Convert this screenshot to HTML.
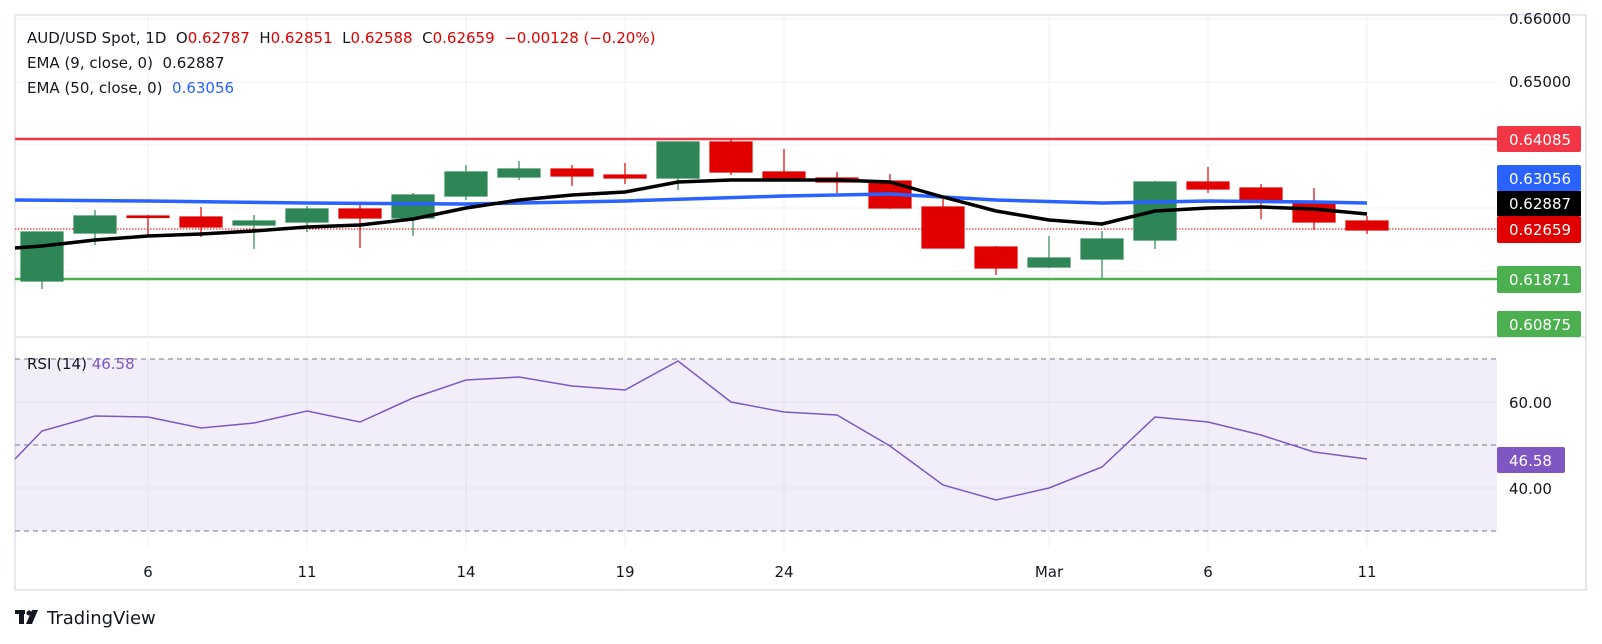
<!DOCTYPE html>
<html><head><meta charset="utf-8"><style>
html,body{margin:0;padding:0;background:#fff;}
svg{display:block;font-family:"DejaVu Sans","Liberation Sans",sans-serif;}
</style></head><body>
<svg width="1602" height="644" viewBox="0 0 1602 644" xmlns="http://www.w3.org/2000/svg">
<rect width="1602" height="644" fill="#fff"/>
<rect x="15" y="15" width="1571" height="575" fill="none" stroke="#e6e8ee" stroke-width="2"/>
<line x1="15" y1="337" x2="1586" y2="337" stroke="#e6e8ee" stroke-width="2"/>
<g stroke="#f0f1f4" stroke-width="1">
<line x1="15" y1="19" x2="1497" y2="19"/><line x1="15" y1="82" x2="1497" y2="82"/>
<line x1="15" y1="145" x2="1497" y2="145"/><line x1="15" y1="208" x2="1497" y2="208"/>
<line x1="15" y1="271" x2="1497" y2="271"/>
<line x1="148" y1="16" x2="148" y2="549"/><line x1="307" y1="16" x2="307" y2="549"/>
<line x1="466" y1="16" x2="466" y2="549"/><line x1="625" y1="16" x2="625" y2="549"/>
<line x1="784" y1="16" x2="784" y2="549"/><line x1="1049" y1="16" x2="1049" y2="549"/>
<line x1="1208" y1="16" x2="1208" y2="549"/><line x1="1367" y1="16" x2="1367" y2="549"/>
</g>
<g font-size="15">
<text x="27" y="43" fill="#131722" xml:space="preserve">AUD/USD Spot, 1D  O<tspan fill="#e00000">0.62787</tspan>  H<tspan fill="#e00000">0.62851</tspan>  L<tspan fill="#e00000">0.62588</tspan>  C<tspan fill="#e00000">0.62659  −0.00128 (−0.20%)</tspan></text>
<text x="27" y="68" fill="#131722" xml:space="preserve">EMA (9, close, 0)  0.62887</text>
<text x="27" y="93" fill="#131722" xml:space="preserve">EMA (50, close, 0)  <tspan fill="#2962ff">0.63056</tspan></text>
</g>
<line x1="15" y1="139" x2="1497" y2="139" stroke="#f23645" stroke-width="2.5"/>
<line x1="15" y1="279" x2="1497" y2="279" stroke="#4caf50" stroke-width="2.5"/>
<line x1="15" y1="229" x2="1497" y2="229" stroke="#e00000" stroke-width="1" stroke-dasharray="1.5,1.5"/>
<g stroke-width="1.2">
<g stroke="#2e8555" fill="#2e8555">
<line x1="42" y1="232" x2="42" y2="289"/><rect x="21" y="232" width="42" height="49"/>
<line x1="95" y1="210" x2="95" y2="245"/><rect x="74" y="216" width="42" height="17"/>
<line x1="254" y1="215" x2="254" y2="249"/><rect x="233" y="221" width="42" height="4"/>
<line x1="307" y1="206" x2="307" y2="232"/><rect x="286" y="209" width="42" height="13"/>
<line x1="413" y1="193" x2="413" y2="236"/><rect x="392" y="195" width="42" height="23"/>
<line x1="466" y1="165" x2="466" y2="200"/><rect x="445" y="172" width="42" height="24"/>
<line x1="519" y1="161" x2="519" y2="180"/><rect x="498" y="169" width="42" height="8"/>
<line x1="678" y1="142" x2="678" y2="190"/><rect x="657" y="142" width="42" height="36"/>
<line x1="1049" y1="236" x2="1049" y2="268"/><rect x="1028" y="258" width="42" height="9"/>
<line x1="1102" y1="231" x2="1102" y2="278"/><rect x="1081" y="239" width="42" height="20"/>
<line x1="1155" y1="181" x2="1155" y2="249"/><rect x="1134" y="182" width="42" height="58"/>
</g>
<g stroke="#e00000" fill="#e00000">
<line x1="148" y1="215" x2="148" y2="236"/><rect x="127" y="216" width="42" height="1.5"/>
<line x1="201" y1="207" x2="201" y2="237"/><rect x="180" y="217" width="42" height="10"/>
<line x1="360" y1="202" x2="360" y2="248"/><rect x="339" y="209" width="42" height="9"/>
<line x1="572" y1="165" x2="572" y2="186"/><rect x="551" y="169" width="42" height="7"/>
<line x1="625" y1="163" x2="625" y2="184"/><rect x="604" y="175" width="42" height="3"/>
<line x1="731" y1="139" x2="731" y2="175"/><rect x="710" y="142" width="42" height="30"/>
<line x1="784" y1="149" x2="784" y2="180"/><rect x="763" y="172" width="42" height="7"/>
<line x1="837" y1="172" x2="837" y2="193"/><rect x="816" y="178" width="42" height="4"/>
<line x1="890" y1="174" x2="890" y2="209"/><rect x="869" y="181" width="42" height="27"/>
<line x1="943" y1="199" x2="943" y2="248"/><rect x="922" y="207" width="42" height="41"/>
<line x1="996" y1="246" x2="996" y2="275"/><rect x="975" y="247" width="42" height="21"/>
<line x1="1208" y1="167" x2="1208" y2="193"/><rect x="1187" y="182" width="42" height="7"/>
<line x1="1261" y1="184" x2="1261" y2="219"/><rect x="1240" y="188" width="42" height="14"/>
<line x1="1314" y1="188" x2="1314" y2="230"/><rect x="1293" y="204" width="42" height="18"/>
<line x1="1367" y1="216" x2="1367" y2="234"/><rect x="1346" y="221" width="42" height="9"/>
</g>
</g>
<polyline fill="none" stroke="#2962ff" stroke-width="3.5" points="15,200 148,201 307,203 466,204 625,201 784,196 890,194 996,200 1102,203 1208,201 1314,202 1367,203"/>
<polyline fill="none" stroke="#000" stroke-width="3.5" stroke-linejoin="round" points="15,248 42,246 95,240 148,236 201,234 254,231 307,227 360,225 413,219 466,208 519,200 572,195 625,192 678,182 731,180 784,180 837,180 890,182 943,197 996,211 1049,220 1102,224 1155,211 1208,208 1261,207 1314,209 1367,214"/>
<g font-size="15" fill="#131722">
<text x="1509" y="24">0.66000</text>
<text x="1509" y="87">0.65000</text>
</g>
<g font-size="15" fill="#fff">
<rect x="1497" y="126" width="84" height="26" rx="2" fill="#f23645"/><text x="1509" y="145">0.64085</text>
<rect x="1497" y="165" width="84" height="26" rx="2" fill="#2962ff"/><text x="1509" y="184">0.63056</text>
<rect x="1497" y="191" width="84" height="25" fill="#000"/><text x="1509" y="209">0.62887</text>
<rect x="1497" y="216" width="84" height="27" rx="2" fill="#e00000"/><text x="1509" y="235">0.62659</text>
<rect x="1497" y="266" width="84" height="27" rx="2" fill="#4caf50"/><text x="1509" y="285">0.61871</text>
<rect x="1497" y="311" width="84" height="26" rx="2" fill="#4caf50"/><text x="1509" y="330">0.60875</text>
</g>
<rect x="15" y="359" width="1482" height="172" fill="#7e57c2" fill-opacity="0.1"/>
<line x1="15" y1="402" x2="1497" y2="402" stroke="#e4e0ee"/>
<line x1="15" y1="488" x2="1497" y2="488" stroke="#e4e0ee"/>
<g stroke="#787b86" stroke-dasharray="5,4" stroke-width="1">
<line x1="15" y1="359" x2="1497" y2="359"/><line x1="15" y1="445" x2="1497" y2="445"/><line x1="15" y1="531" x2="1497" y2="531"/>
</g>
<polyline fill="none" stroke="#7e57c2" stroke-width="1.5" points="15,459 42,431 95,416 148,417 201,428 254,423 307,411 360,422 413,398 466,380 519,377 572,386 625,390 678,361 731,402 784,412 837,415 890,446 943,485 996,500 1049,488 1102,467 1155,417 1208,422 1261,435 1314,452 1367,459"/>
<text x="27" y="369" font-size="15" fill="#131722">RSI (14) <tspan fill="#7e57c2">46.58</tspan></text>
<g font-size="15" fill="#131722">
<text x="1509" y="408">60.00</text><text x="1509" y="494">40.00</text>
</g>
<rect x="1497" y="447" width="68" height="26" rx="2" fill="#7e57c2"/>
<text x="1509" y="466" font-size="15" fill="#fff">46.58</text>
<g font-size="15" fill="#131722" text-anchor="middle">
<text x="148" y="577">6</text><text x="307" y="577">11</text><text x="466" y="577">14</text>
<text x="625" y="577">19</text><text x="784" y="577">24</text><text x="1049" y="577">Mar</text>
<text x="1208" y="577">6</text><text x="1367" y="577">11</text>
</g>
<g fill="#131722">
<rect x="15" y="610" width="10" height="4"/><rect x="19" y="610" width="5" height="14"/>
<circle cx="29" cy="613" r="2.5"/><polygon points="32,610 38,610 32,624 26,624"/>
<text x="47" y="624" font-size="18">TradingView</text>
</g>
</svg>
</body></html>
